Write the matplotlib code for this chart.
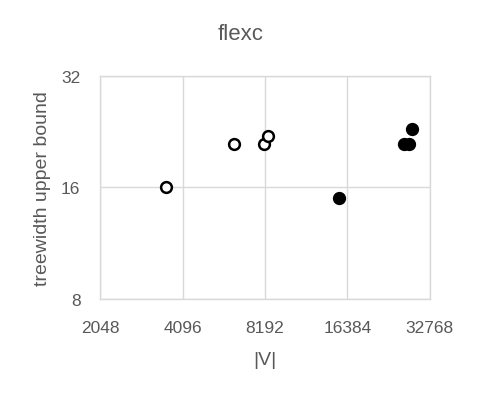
import matplotlib
matplotlib.use("Agg")
import matplotlib.pyplot as plt
from matplotlib.ticker import FixedLocator, FixedFormatter, NullLocator

plt.rcParams['font.family'] = ['Liberation Sans', 'DejaVu Sans']

open_x = [3550, 6300, 8100, 8420]
open_y = [16, 21, 21, 22]
filled_x = [15300, 26500, 27600, 28200]
filled_y = [15, 21, 21, 23]

x_ticks = [2048, 4096, 8192, 16384, 32768]
y_ticks = [8, 16, 32]

fig = plt.figure(figsize=(4.82, 4.02), dpi=100)
ax = fig.add_axes([0.2083, 0.2537, 0.683, 0.5555])
ax.set_xscale('log', base=2)
ax.set_yscale('log', base=2)
ax.set_xlim(2048, 32768)
ax.set_ylim(8, 32)

grid_c = '#d9d9d9'
text_c = '#595959'
ax.xaxis.set_major_locator(FixedLocator(x_ticks))
ax.xaxis.set_major_formatter(FixedFormatter([str(v) for v in x_ticks]))
ax.yaxis.set_major_locator(FixedLocator(y_ticks))
ax.yaxis.set_major_formatter(FixedFormatter([str(v) for v in y_ticks]))
ax.xaxis.set_minor_locator(NullLocator())
ax.yaxis.set_minor_locator(NullLocator())
ax.grid(True, color=grid_c, linewidth=1)
ax.set_axisbelow(True)
for s in ax.spines.values():
    s.set_color(grid_c)
    s.set_linewidth(1)
ax.tick_params(length=0, labelsize=12.5, colors=text_c)
ax.tick_params(axis='y', pad=14.4)
ax.tick_params(axis='x', pad=15)

ax.scatter(open_x, open_y, s=60, facecolors='white', edgecolors='black', linewidths=1.8, zorder=3)
ax.scatter(filled_x, filled_y, s=60, facecolors='black', edgecolors='black', linewidths=1.8, zorder=3)

fig.text(0.5, 1 - 40 / 402, 'flexc', fontsize=16, color=text_c, ha='center', va='baseline')
ax.set_xlabel('|V|', fontsize=14, color=text_c)
ax.set_ylabel('treewidth upper bound', fontsize=14, color=text_c)
ax.xaxis.set_label_coords(0.5, -0.233)
ax.yaxis.set_label_coords(-0.150, 0.5)

fig.savefig('out.png', dpi=100, facecolor='white')
